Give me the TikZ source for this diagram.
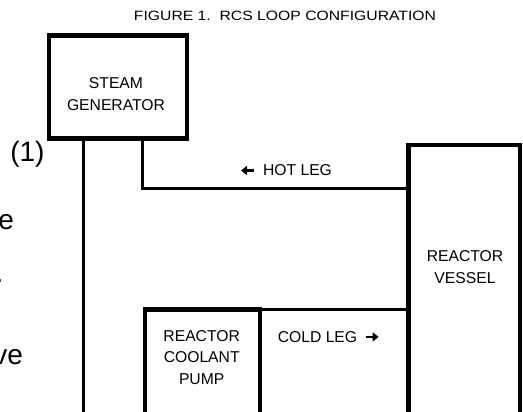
\documentclass[tikz,border=0pt]{standalone}
\usepackage{fontspec}
\usepackage{graphicx}
\setmainfont{Liberation Sans}
\usetikzlibrary{arrows.meta}
\tikzset{
  box/.style={draw, line width=4.5pt, outer sep=0pt, inner sep=0pt},
  pipe/.style={line width=3.5pt},
  lbl/.style={font=\fontsize{15.7}{21.5}\selectfont, align=center, inner sep=0pt},
  frag/.style={font=\fontsize{28}{30}\selectfont, inner sep=0pt, anchor=base east},
  flowarrow/.style={line width=2.6pt, -{Triangle[length=6pt,width=9pt]}},
}
\begin{document}
\begin{tikzpicture}[x=1pt,y=-1pt]
\useasboundingbox (0,0) rectangle (523,412);
\clip (0,0) rectangle (523,412);
\fill[white] (0,0) rectangle (523,412);

% title
\node[inner sep=0pt, font=\fontsize{13.5}{15}\selectfont] (title) at (285,16)
  {\scalebox{1.165}[1]{FIGURE 1.\ \ RCS LOOP CONFIGURATION}};

% clipped fragments of surrounding text
\node[frag] (f1) at (44.7,161.7) {(1)};
\node[frag] (f2) at (14.2,229.5) {e};
\node[frag] (f3) at (3.6,282.5) {.};
\node[frag] (f4) at (23.2,364.5) {ve};

% boxes
\node[box, minimum width=138.4pt, minimum height=103.2pt] (sg) at (118,87.1) {};
\node[box, minimum width=111.3pt, minimum height=315pt] (rv) at (464.35,302.5) {};
\node[box, minimum width=115pt, minimum height=150.5pt] (rcp) at (202.5,384.75) {};

% labels
\node[lbl] (sgl) at (116,94) {STEAM\\GENERATOR};
\node[lbl] (rvl) at (465,267.3) {REACTOR\\VESSEL};
\node[lbl] (rcpl) at (201.7,357.3) {REACTOR\\COOLANT\\PUMP};
\node[lbl] (hotl) at (297.5,170.5) {HOT LEG};
\node[lbl] (coldl) at (317.5,336.9) {COLD LEG};

% flow arrows
\draw[flowarrow] ([xshift=-8.5pt]hotl.west) -- ++(-13.3,0);
\draw[flowarrow] ([xshift=8.9pt]coldl.east) -- ++(12.3,0);

% pipes
\coordinate (pipeend) at (83.5,430);
\coordinate (hotx) at (142.7,188.3);
\draw[pipe] (sg.south -| pipeend) -- (pipeend);
\draw[pipe] (sg.south -| hotx) |- (rv.west |- hotx);
\draw[pipe] (rcp.north east) -- (rcp.north east -| rv.west);
\end{tikzpicture}
\end{document}
